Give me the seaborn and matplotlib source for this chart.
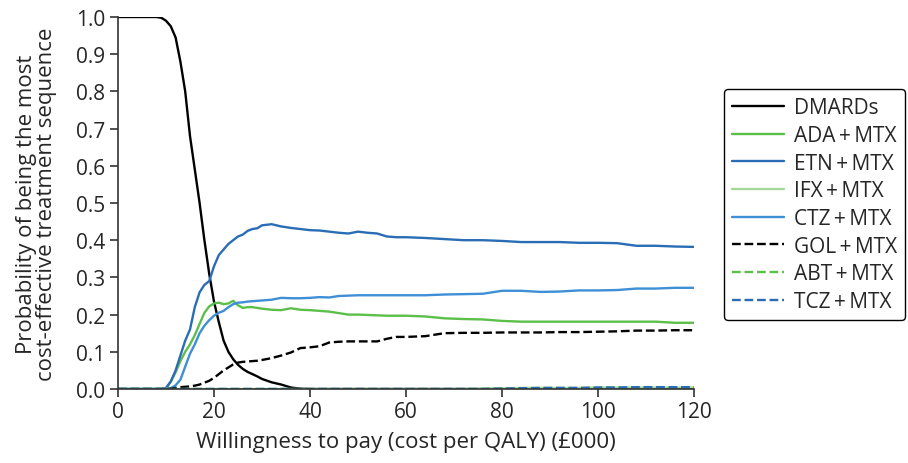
import matplotlib
matplotlib.use("Agg")
import matplotlib.pyplot as plt
import numpy as np
import pandas as pd
import seaborn as sns

# willingness to pay (£000)
wtp = [0, 4, 8, 9, 10, 11, 12, 13, 14, 15, 16, 17, 18, 19, 20, 21, 22, 23, 24, 25,
       26, 27, 28, 29, 30, 32, 34, 36, 38, 40, 42, 44, 46, 48, 50, 52, 54, 56, 58, 60,
       64, 68, 72, 76, 80, 84, 88, 92, 96, 100, 104, 108, 112, 116, 120]

dmards = [1, 1, 1, 0.998, 0.99, 0.975, 0.945, 0.88, 0.80, 0.68, 0.59, 0.50, 0.40, 0.31, 0.235, 0.18, 0.13, 0.10, 0.08, 0.065,
          0.054, 0.046, 0.04, 0.034, 0.027, 0.018, 0.012, 0.004, 0.001, 0, 0, 0, 0, 0, 0, 0, 0, 0, 0, 0,
          0, 0, 0, 0, 0, 0, 0, 0, 0, 0, 0, 0, 0, 0, 0]
ada = [0, 0, 0, 0, 0.002, 0.02, 0.045, 0.075, 0.10, 0.12, 0.145, 0.175, 0.205, 0.222, 0.23, 0.232, 0.228, 0.23, 0.237, 0.225,
       0.218, 0.22, 0.22, 0.218, 0.216, 0.213, 0.212, 0.217, 0.213, 0.212, 0.21, 0.208, 0.204, 0.2, 0.2, 0.199, 0.198, 0.197, 0.197, 0.197,
       0.195, 0.19, 0.188, 0.187, 0.183, 0.181, 0.181, 0.181, 0.181, 0.181, 0.181, 0.181, 0.181, 0.178, 0.178]
etn = [0, 0, 0, 0, 0.003, 0.02, 0.05, 0.09, 0.13, 0.16, 0.22, 0.26, 0.28, 0.29, 0.33, 0.36, 0.375, 0.39, 0.40, 0.41,
       0.415, 0.425, 0.43, 0.432, 0.44, 0.443, 0.437, 0.433, 0.43, 0.427, 0.426, 0.423, 0.42, 0.418, 0.423, 0.42, 0.418, 0.41, 0.408, 0.408,
       0.406, 0.403, 0.40, 0.40, 0.398, 0.395, 0.395, 0.395, 0.393, 0.393, 0.392, 0.385, 0.385, 0.383, 0.382]
ifx = [0, 0, 0, 0, 0, 0, 0, 0, 0, 0, 0, 0, 0, 0, 0, 0, 0, 0, 0, 0,
       0, 0, 0, 0, 0, 0, 0, 0, 0, 0, 0, 0, 0, 0, 0, 0, 0, 0, 0, 0,
       0, 0, 0, 0.001, 0.002, 0.003, 0.003, 0.003, 0.003, 0.004, 0.004, 0.004, 0.004, 0.004, 0.004]
ctz = [0, 0, 0, 0, 0, 0.002, 0.01, 0.025, 0.06, 0.095, 0.12, 0.15, 0.17, 0.185, 0.197, 0.205, 0.21, 0.22, 0.228, 0.232,
       0.233, 0.235, 0.236, 0.237, 0.238, 0.24, 0.245, 0.244, 0.244, 0.245, 0.247, 0.246, 0.25, 0.251, 0.252, 0.252, 0.252, 0.252, 0.252, 0.252,
       0.252, 0.254, 0.255, 0.256, 0.264, 0.264, 0.261, 0.262, 0.265, 0.265, 0.266, 0.27, 0.27, 0.272, 0.272]
gol = [0, 0, 0, 0, 0, 0.001, 0.003, 0.005, 0.006, 0.007, 0.009, 0.012, 0.017, 0.022, 0.03, 0.04, 0.05, 0.058, 0.066, 0.071,
       0.073, 0.074, 0.075, 0.076, 0.078, 0.083, 0.09, 0.098, 0.11, 0.112, 0.115, 0.125, 0.127, 0.128, 0.128, 0.128, 0.128, 0.135, 0.14, 0.14,
       0.142, 0.15, 0.151, 0.151, 0.152, 0.152, 0.152, 0.153, 0.153, 0.154, 0.155, 0.157, 0.157, 0.158, 0.158]
abt = [0, 0, 0, 0, 0, 0, 0, 0, 0, 0, 0, 0, 0, 0, 0, 0, 0, 0, 0, 0,
       0, 0, 0, 0, 0, 0, 0, 0, 0, 0, 0, 0, 0, 0, 0, 0, 0, 0, 0, 0,
       0, 0, 0, 0, 0.001, 0.001, 0.002, 0.002, 0.002, 0.003, 0.003, 0.003, 0.003, 0.003, 0.003]
tcz = [0, 0, 0, 0, 0, 0, 0, 0, 0, 0, 0, 0, 0, 0, 0, 0, 0, 0, 0, 0,
       0, 0, 0, 0, 0, 0, 0, 0, 0, 0, 0, 0, 0, 0, 0, 0, 0, 0, 0, 0,
       0, 0, 0, 0, 0.001, 0.002, 0.003, 0.003, 0.003, 0.004, 0.004, 0.005, 0.005, 0.005, 0.005]

ts = "\u2009+\u2009"
names = ["DMARDs", "ADA" + ts + "MTX", "ETN" + ts + "MTX", "IFX" + ts + "MTX",
         "CTZ" + ts + "MTX", "GOL" + ts + "MTX", "ABT" + ts + "MTX", "TCZ" + ts + "MTX"]
series = [dmards, ada, etn, ifx, ctz, gol, abt, tcz]
colors = ["black", "#5cbf4a", "#2a6db5", "#a6d89a", "#3f8fd6", "black", "#5cbf4a", "#2a6db5"]
styles = ["-", "-", "-", "-", "-", "--", "--", "--"]

sns.set_style("ticks")
plt.rcParams['font.family'] = ['Open Sans', 'DejaVu Sans']

fig = plt.figure(figsize=(9.08, 4.64), dpi=100)
ax = fig.add_axes([118 / 908, 1 - 390 / 464, 576 / 908, 372 / 464])

for name, vals, col, ls in zip(names, series, colors, styles):
    df = pd.DataFrame({"wtp": wtp, "p": vals})
    sns.lineplot(data=df, x="wtp", y="p", ax=ax, color=col, linestyle=ls,
                 linewidth=1.7, label=name)

ax.set_xlim(0, 120)
ax.set_ylim(0, 1.0)
ax.set_xticks(np.arange(0, 121, 20))
ax.set_yticks(np.arange(0, 1.01, 0.1))
ax.set_yticklabels([f"{v:.1f}" for v in np.arange(0, 1.01, 0.1)])
ax.tick_params(labelsize=15, length=6, width=1.2, color="#333333", direction="out", pad=3)
for s in ["left", "bottom"]:
    ax.spines[s].set_linewidth(1.2)
    ax.spines[s].set_color("#333333")
sns.despine(ax=ax)
ax.set_xlabel("Willingness to pay (cost per QALY) (£000)", fontsize=16, labelpad=6)
ax.set_ylabel("Probability of being the most\ncost-effective treatment sequence",
              fontsize=16, labelpad=14, linespacing=0.95)

leg = ax.legend(loc="upper left", bbox_to_anchor=(724 / 908, 1 - 90 / 464),
                bbox_transform=fig.transFigure, fontsize=15, frameon=True,
                fancybox=True, edgecolor="black", handlelength=2.5,
                labelspacing=0.32, borderpad=0.4, handletextpad=0.45,
                borderaxespad=0)
leg.get_frame().set_linewidth(1.0)
leg.get_frame().set_alpha(1)

fig.savefig("out.png", dpi=100)
